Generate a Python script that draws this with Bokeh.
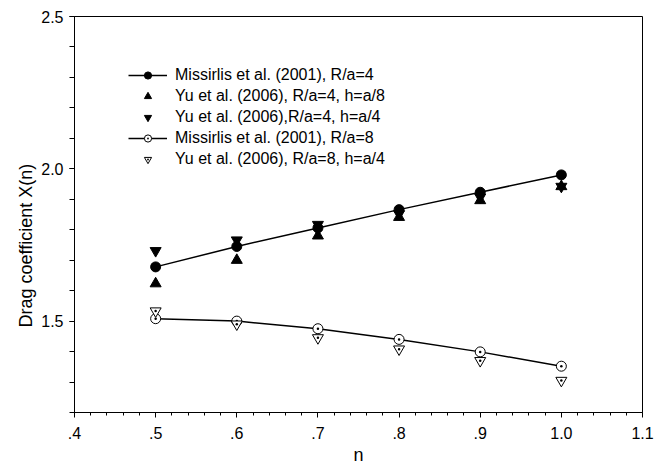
import math
from bokeh.plotting import figure
from bokeh.models import (FixedTicker, Range1d, Legend, LegendItem, Title,
                          CustomJSTickFormatter)
from bokeh.embed import file_html
from bokeh.resources import INLINE

# ---- data ----
n_values = [0.5, 0.6, 0.7, 0.8, 0.9, 1.0]
missirlis_ra4 = [1.678, 1.745, 1.806, 1.866, 1.923, 1.980]
yu_ra4_h8 = [1.623, 1.700, 1.780, 1.841, 1.896, 1.942]
yu_ra4_h4 = [1.731, 1.766, 1.817, 1.852, 1.907, 1.942]
missirlis_ra8 = [1.508, 1.500, 1.475, 1.440, 1.399, 1.352]
yu_ra8_h4 = [1.533, 1.490, 1.445, 1.408, 1.370, 1.305]

series_labels = [
    "Missirlis et al. (2001), R/a=4",
    "Yu et al. (2006), R/a=4, h=a/8",
    "Yu et al. (2006),R/a=4, h=a/4",
    "Missirlis et al. (2001), R/a=8",
    "Yu et al. (2006), R/a=8, h=a/4",
]

x_ticks = [0.4, 0.5, 0.6, 0.7, 0.8, 0.9, 1.0, 1.1]
x_tick_labels = [".4", ".5", ".6", ".7", ".8", ".9", "1.0", "1.1"]
x_minor_ticks = [round(0.4 + 0.02 * i, 2) for i in range(36)]
y_ticks = [1.5, 2.0, 2.5]
y_tick_labels = ["1.5", "2.0", "2.5"]
y_minor_ticks = [round(1.2 + 0.1 * i, 1) for i in range(14)]

x_label = "n"
y_label = "Drag coefficient X(n)"

FONT = "Liberation Sans"

p = figure(width=654, height=471, x_range=Range1d(0.4, 1.1), y_range=Range1d(1.2, 2.5),
           output_backend="svg", toolbar_location=None,
           min_border_left=74, min_border_right=12, min_border_top=16, min_border_bottom=59)
p.grid.visible = False
p.outline_line_color = "black"
p.outline_line_width = 1
p.background_fill_color = "white"
p.border_fill_color = "white"

fmt_code = """
const i = tvals.findIndex(t => Math.abs(t - tick) < 1e-9);
return i >= 0 ? tlabs[i] : '';
"""

xa = p.xaxis[0]
xa.ticker = FixedTicker(ticks=x_ticks, minor_ticks=x_minor_ticks)
xa.formatter = CustomJSTickFormatter(args=dict(tvals=x_ticks, tlabs=x_tick_labels), code=fmt_code)
xa.major_tick_out = 5
xa.major_tick_in = 0
xa.minor_tick_out = 3
xa.minor_tick_in = 0
xa.major_label_standoff = 9
xa.axis_label = x_label
xa.axis_label_standoff = 3

ya = p.yaxis[0]
ya.ticker = FixedTicker(ticks=y_ticks, minor_ticks=y_minor_ticks)
ya.formatter = CustomJSTickFormatter(args=dict(tvals=y_ticks, tlabs=y_tick_labels), code=fmt_code)
ya.major_tick_out = 5
ya.major_tick_in = 0
ya.minor_tick_out = 5
ya.minor_tick_in = 0
ya.major_label_standoff = 6

for ax in (xa, ya):
    ax.axis_line_color = "black"
    ax.major_tick_line_color = "black"
    ax.minor_tick_line_color = "black"
    ax.major_label_text_font = FONT
    ax.major_label_text_font_size = "16px"
    ax.major_label_text_color = "black"
    ax.axis_label_text_font = FONT
    ax.axis_label_text_font_size = "18px"
    ax.axis_label_text_font_style = "normal"
    ax.axis_label_text_color = "black"

ytitle = Title(text=y_label, align="left", offset=85, standoff=6,
               text_font=FONT, text_font_size="18px", text_font_style="normal",
               text_color="black")
p.add_layout(ytitle, "left")

# ---- series ----
r_line4 = p.line(n_values, missirlis_ra4, line_color="black", line_width=1.5)
r_pts4 = p.scatter(n_values, missirlis_ra4, marker="circle", size=10,
                   fill_color="black", line_color="black")
r_up = p.scatter(n_values, yu_ra4_h8, marker="triangle", size=11,
                 fill_color="black", line_color="black")
r_down = p.scatter(n_values, yu_ra4_h4, marker="inverted_triangle", size=11,
                   fill_color="black", line_color="black")
r_line8 = p.line(n_values, missirlis_ra8, line_color="black", line_width=1.5)
r_pts8 = p.scatter(n_values, missirlis_ra8, marker="circle_dot", size=10,
                   fill_color="white", line_color="black", line_width=1)
r_tri8 = p.scatter(n_values, yu_ra8_h4, marker="inverted_triangle", size=11,
                   fill_color="white", line_color="black", line_width=1)
r_tri8dot = p.scatter(n_values, yu_ra8_h4, marker="dot", size=10,
                      fill_color="black", line_color="black")

legend = Legend(items=[
    LegendItem(label=series_labels[0], renderers=[r_line4, r_pts4]),
    LegendItem(label=series_labels[1], renderers=[r_up]),
    LegendItem(label=series_labels[2], renderers=[r_down]),
    LegendItem(label=series_labels[3], renderers=[r_line8, r_pts8]),
    LegendItem(label=series_labels[4], renderers=[r_tri8, r_tri8dot]),
], location=(54, 244), orientation="vertical", padding=0, margin=0, spacing=3,
    glyph_width=39, glyph_height=18, label_height=18, label_standoff=8,
    label_text_font=FONT, label_text_font_size="16px", label_text_color="black",
    border_line_alpha=0, background_fill_alpha=0)
p.add_layout(legend)

open("out.html", "w").write(file_html(p, INLINE))
